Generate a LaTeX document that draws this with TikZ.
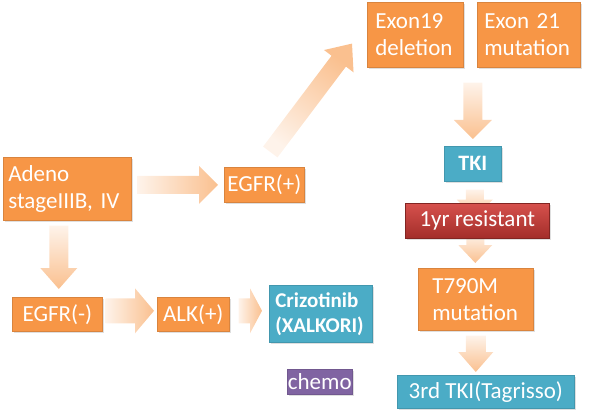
\documentclass[tikz,border=0pt]{standalone}
\usepackage{fontspec}
\setmainfont{Carlito}
\frenchspacing
\usetikzlibrary{calc, shadows, backgrounds}
\definecolor{boxorange}{HTML}{F79646}
\definecolor{tkiblue}{HTML}{4BACC6}
\definecolor{chemopurple}{HTML}{8064A2}
\definecolor{resisttop}{HTML}{D6514D}
\definecolor{resistbot}{HTML}{A32E2A}
\definecolor{arrowhead}{HTML}{FAC08F}
\definecolor{arrowtail}{HTML}{FEF3EA}

% fat shaded arrow: [style]{tail}{tip}{half shaft}{half head}{head length}
\newcommand{\blockarrow}[6][]{%
  \path #2 coordinate (ba-t) #3 coordinate (ba-p);
  \path ($(ba-p)!#6!(ba-t)$) coordinate (ba-b);
  \shade[#1] ($(ba-t)!#4!90:(ba-p)$) -- ($(ba-b)!#4!90:(ba-p)$)
    -- ($(ba-b)!#5!90:(ba-p)$) -- (ba-p) -- ($(ba-b)!#5!-90:(ba-p)$)
    -- ($(ba-b)!#4!-90:(ba-p)$) -- ($(ba-t)!#4!-90:(ba-p)$) -- cycle;
}

\begin{document}
\begin{tikzpicture}[
  x=1pt, y=1pt,
  box/.style={
    anchor=north west, inner sep=0pt, align=center, text=white,
    font=\fontsize{23}{27}\selectfont, line width=0.6pt,
    drop shadow={opacity=0.25, shadow xshift=1.2pt, shadow yshift=-1.5pt}
  },
  obox/.style={box, fill=boxorange, draw=boxorange!88!black},
  bbox/.style={box, fill=tkiblue, draw=tkiblue!88!black},
  pbox/.style={box, fill=chemopurple, draw=chemopurple!88!black},
  rbox/.style={box, top color=resisttop, bottom color=resistbot, draw=resistbot!80!black},
  boldtext/.style={font=\bfseries\fontsize{22}{27}\selectfont},
  harrow/.style={left color=arrowtail, right color=arrowhead},
  varrow/.style={top color=arrowtail, bottom color=arrowhead},
  darrow/.style={bottom color=arrowtail, top color=arrowhead, shading angle=-37},
]
\useasboundingbox (0,0) rectangle (600,-417);

% left branch
\node[obox, text width=118pt, align=left, inner xsep=5pt, minimum height=63pt] (adeno) at (3,-157) {Adeno\\stageIIIB, IV};
\node[obox, minimum width=80pt, minimum height=35pt] (egfrpos) at (224,-167) {EGFR(+)};
\node[obox, minimum width=90pt, minimum height=34pt] (egfrneg) at (12,-297) {EGFR(-)};
\node[obox, minimum width=72pt, minimum height=34pt] (alk) at (157,-297) {ALK(+)};
\node[bbox, text width=91pt, align=left, inner xsep=6pt, minimum height=57pt,
  font=\bfseries\fontsize{21}{25}\selectfont] (crizo) at (269,-285) {Crizotinib\\(XALKORI)};
\node[pbox, minimum width=65pt, minimum height=25pt] (chemo) at (287,-369) {chemo};

% right branch
\node[obox, text width=80pt, align=left, inner xsep=8pt, minimum height=65pt] (exon19) at (367,-2) {Exon19\\deletion};
\node[obox, text width=89pt, align=left, inner xsep=7pt, minimum height=65pt] (exon21) at (477,-2) {Exon 21\\mutation};
\node[bbox, boldtext, minimum width=57pt, minimum height=35pt] (tki) at (444,-146) {TKI};
\node[rbox, minimum width=144pt, minimum height=35pt] (resist) at (405,-203) {1yr resistant};
\node[obox, text width=87pt, align=left, inner xsep=14pt, minimum height=62pt] (t790m) at (418,-268) {T790M\\mutation};
\node[bbox, minimum width=177pt, minimum height=33pt] (thirdtki) at (397,-375) {3rd TKI(Tagrisso)};

\begin{scope}[on background layer]
\blockarrow[harrow]{($(adeno.east|-egfrpos.west)+(6,0)$)}{($(egfrpos.west)+(-6,0)$)}{9pt}{19pt}{19pt}
\blockarrow[varrow]{($(egfrneg.north|-adeno.south)+(1.5,-5)$)}{($(egfrneg.north)+(1.5,8)$)}{9.5pt}{18.5pt}{21pt}
\blockarrow[harrow]{($(egfrneg.east)+(3,3.5)$)}{($(alk.west)+(-3,3.5)$)}{12.5pt}{22.5pt}{19pt}
\blockarrow[harrow]{($(alk.east)+(9,3.5)$)}{($(crizo.west)+(-7,3)$)}{12.5pt}{22.5pt}{12pt}
\blockarrow[darrow]{($(egfrpos.north)+(6,15)$)}{($(exon19.south west)+(-15,24)$)}{9pt}{18.5pt}{22pt}
\blockarrow[varrow]{($(tki.north|-exon19.south)+(0,-15)$)}{($(tki.north)+(0,7)$)}{9.5pt}{19pt}{19pt}
\blockarrow[varrow]{($(tki.south)+(2,-8)$)}{($(tki.south)+(2,-36)$)}{9pt}{18pt}{18pt}
\blockarrow[varrow]{($(resist.south)+(-2,5)$)}{($(t790m.north)+(-0.5,5)$)}{9pt}{17pt}{18pt}
\blockarrow[varrow]{($(t790m.south)+(0,-5)$)}{($(t790m.south|-thirdtki.north)+(0,3)$)}{10pt}{17.5pt}{20pt}
\end{scope}

\end{tikzpicture}
\end{document}
